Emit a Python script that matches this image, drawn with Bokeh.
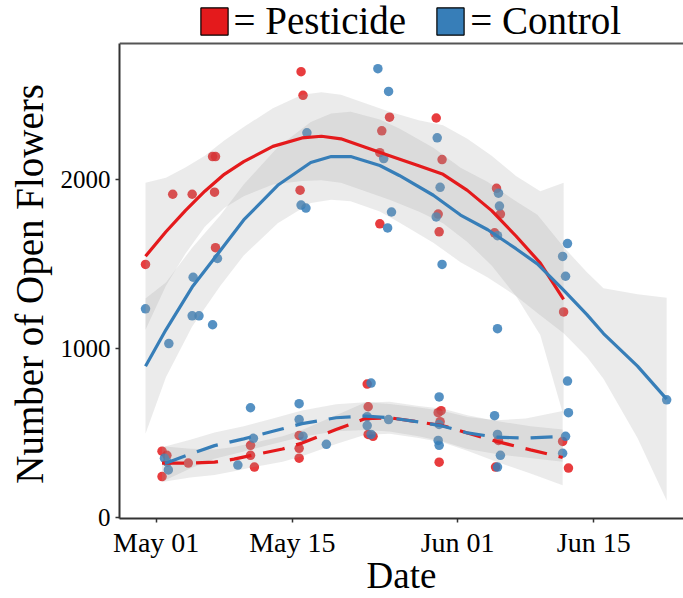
import numpy as np
import pandas as pd
from bokeh.plotting import figure
from bokeh.models import (Range1d, FixedTicker, DatetimeTickFormatter,
                          Span, Legend, LegendItem)
from bokeh.embed import file_html
from bokeh.resources import INLINE

# Survey dates are given as days after 1 May (fractional part = jitter)
BASE = pd.Timestamp("2019-05-01")

RED = "#E41A1C"
BLUE = "#377EB8"

# ---- observed counts: high-flower plots -------------------------------------
pest_hi_day = [-1.1, 1.7, 3.7, 5.8, 6.1, 6.0, 6.1, 14.9, 15.1, 14.8, 23.2, 24.0, 23.0, 23.0,
               28.8, 29.4, 29.0, 29.1, 35.0, 35.4, 34.8, 41.9]
pest_hi_val = [1497, 1912, 1912, 2135, 2135, 1924, 1596, 2637, 2497, 1936, 2287, 2368, 2158, 1737,
               2363, 2117, 1795, 1690, 1947, 1795, 1684, 1216]

ctrl_hi_day = [-1.1, 1.3, 3.8, 3.7, 4.4, 5.8, 6.3, 15.5, 14.9, 15.4, 22.8, 23.9, 23.4, 24.2, 23.8,
               28.9, 29.2, 28.8, 29.4, 35.2, 35.3, 35.1, 35.1, 42.3, 41.8, 42.1, 42.3, 52.5]
ctrl_hi_val = [1234, 1029, 1421, 1193, 1193, 1140, 1532, 2275, 1848, 1830, 2655, 2520, 2123, 1807, 1713,
               2246, 1953, 1778, 1497, 1918, 1842, 1667, 1117, 1620, 1544, 1427, 807, 696]

# ---- observed counts: low-flower plots --------------------------------------
pest_lo_day = [0.6, 0.6, 1.1, 3.3, 9.7, 9.7, 10.1, 14.7, 14.7, 14.7, 21.7, 21.8, 21.8, 22.3,
               29.0, 29.3, 29.2, 29.1, 34.9, 35.2, 41.8, 42.4]
pest_lo_val = [392, 242, 368, 322, 427, 368, 298, 485, 409, 351, 789, 655, 491, 480,
               620, 632, 567, 327, 298, 456, 450, 292]

ctrl_lo_day = [0.85, 1.15, 1.25, 8.4, 9.7, 10.0, 14.7, 14.7, 15.1, 17.5, 22.1, 21.7, 21.7, 22.1, 23.9,
               29.1, 29.1, 29.0, 29.1, 34.8, 35.1, 35.4, 35.1, 42.4, 42.1, 41.8]
ctrl_lo_val = [351, 327, 281, 310, 649, 468, 673, 579, 480, 433, 795, 596, 544, 491, 579,
               713, 550, 456, 427, 602, 491, 368, 298, 620, 480, 380]

# ---- smoothed trends with confidence bands ----------------------------------
pest_hi_fit_day = [-1.1, 1, 3, 5, 7, 9, 12, 15, 17, 19, 21.5, 24, 27, 29.5, 32, 34.5, 37, 39.5, 41.9]
pest_hi_fit = [1545, 1690, 1815, 1930, 2030, 2105, 2195, 2245, 2255, 2240, 2190, 2140, 2080, 2030,
               1935, 1815, 1665, 1505, 1290]
pest_hi_low = [1110, 1370, 1560, 1720, 1830, 1900, 1970, 1990, 1995, 1980, 1930, 1880, 1810, 1740,
               1630, 1490, 1310, 1080, 600]
pest_hi_upp = [1980, 2010, 2070, 2140, 2230, 2310, 2420, 2500, 2515, 2500, 2450, 2400, 2350, 2320,
               2240, 2140, 2020, 1930, 1980]

ctrl_hi_fit_day = [-1.1, 1, 3.7, 6.6, 9, 12.5, 15.9, 18, 20, 23, 25, 28.5, 31.3, 34.1, 37, 39.2,
                   41.9, 44.3, 46, 49.5, 52.5]
ctrl_hi_fit = [895, 1110, 1363, 1579, 1760, 1965, 2100, 2135, 2135, 2082, 2023, 1906, 1789, 1702,
               1590, 1500, 1345, 1200, 1088, 895, 700]
ctrl_hi_low = [495, 830, 1130, 1370, 1550, 1740, 1860, 1880, 1870, 1810, 1745, 1625, 1510, 1420,
               1310, 1210, 1090, 950, 820, 470, 100]
ctrl_hi_upp = [1295, 1390, 1596, 1788, 1970, 2190, 2340, 2390, 2400, 2354, 2301, 2187, 2068, 1984,
               1870, 1790, 1600, 1450, 1356, 1320, 1300]

pest_lo_fit_day = [0.6, 3.5, 6, 8, 10, 13, 15, 18.5, 21.5, 24, 27, 29.5, 32, 35, 38.5, 41.8]
pest_lo_fit = [322, 322, 327, 345, 370, 405, 440, 520, 585, 590, 565, 543, 500, 450, 400, 355]
pest_lo_low = [210, 237, 252, 273, 298, 330, 362, 435, 490, 495, 470, 443, 395, 330, 260, 190]
pest_lo_upp = [422, 407, 402, 417, 442, 480, 518, 605, 680, 685, 660, 643, 605, 570, 540, 520]

ctrl_lo_fit_day = [0.9, 3.5, 6, 9, 12, 15, 18.5, 21.5, 24, 27, 29.5, 32, 35, 38, 41.8]
ctrl_lo_fit = [320, 375, 425, 465, 510, 555, 590, 600, 590, 565, 540, 500, 475, 470, 480]
ctrl_lo_low = [220, 290, 347, 390, 435, 477, 510, 518, 508, 480, 450, 405, 375, 355, 330]
ctrl_lo_upp = [420, 460, 503, 540, 585, 633, 670, 682, 672, 650, 630, 595, 575, 585, 630]

# ---- axis ticks --------------------------------------------------------------
x_tick_dates = ["2019-05-01", "2019-05-15", "2019-06-01", "2019-06-15"]
y_ticks = [0, 1000, 2000]


def to_dates(days):
    return (BASE + pd.to_timedelta(np.asarray(days, dtype=float), unit="D")).values


def ms(ts):
    return pd.Timestamp(ts).value / 1e6


SERIF = "Liberation Serif"
Y_TOP = 2804  # upper edge of the panel

p = figure(width=683, height=598, x_axis_type="datetime",
           output_backend="svg", toolbar_location=None,
           x_range=Range1d(ms(BASE - pd.Timedelta(days=3.774)), ms(BASE + pd.Timedelta(days=54.23))),
           y_range=Range1d(-6, 3058),
           min_border_left=119, min_border_right=0, min_border_top=0, min_border_bottom=74)
p.background_fill_color = "white"
p.border_fill_color = "white"
p.outline_line_color = None
p.xgrid.grid_line_color = None
p.ygrid.grid_line_color = None

# points
for days, vals, col in [(pest_hi_day, pest_hi_val, RED), (ctrl_hi_day, ctrl_hi_val, BLUE),
                        (pest_lo_day, pest_lo_val, RED), (ctrl_lo_day, ctrl_lo_val, BLUE)]:
    p.scatter(x=to_dates(days), y=vals, size=9.5, fill_color=col, fill_alpha=0.85, line_color=None)

# confidence bands
for days, lo, hi in [(pest_hi_fit_day, pest_hi_low, pest_hi_upp), (ctrl_hi_fit_day, ctrl_hi_low, ctrl_hi_upp),
                     (pest_lo_fit_day, pest_lo_low, pest_lo_upp), (ctrl_lo_fit_day, ctrl_lo_low, ctrl_lo_upp)]:
    p.varea(x=to_dates(days), y1=lo, y2=hi, fill_color="#999999", fill_alpha=0.2)

# trend lines
p.line(x=to_dates(pest_hi_fit_day), y=pest_hi_fit, line_color=RED, line_width=3.2, line_join="round")
p.line(x=to_dates(ctrl_hi_fit_day), y=ctrl_hi_fit, line_color=BLUE, line_width=3.2, line_join="round")
p.line(x=to_dates(pest_lo_fit_day), y=pest_lo_fit, line_color=RED, line_width=3.2, line_dash="22 12")
p.line(x=to_dates(ctrl_lo_fit_day), y=ctrl_lo_fit, line_color=BLUE, line_width=3.2, line_dash="22 12")

# top border of the panel
p.add_layout(Span(location=Y_TOP, dimension="width", line_color="#555555", line_width=2))

# axes
for ax in (p.xaxis[0], p.yaxis[0]):
    ax.axis_line_color = "#333333"
    ax.axis_line_width = 2
    ax.major_tick_line_color = "#333333"
    ax.major_tick_line_width = 1.5
    ax.major_tick_out = 4
    ax.major_tick_in = 0
    ax.minor_tick_line_color = None
    ax.major_label_text_font = SERIF
    ax.major_label_text_color = "black"
    ax.axis_label_text_font = SERIF
    ax.axis_label_text_font_style = "normal"
    ax.axis_label_text_color = "black"

p.xaxis.axis_label = "Date"
p.xaxis.axis_label_text_font_size = "37px"
p.xaxis.major_label_text_font_size = "28px"
p.xaxis.ticker = FixedTicker(ticks=[ms(d) for d in x_tick_dates])
p.xaxis.formatter = DatetimeTickFormatter(days="%b %d", months="%b %d")
p.xaxis.major_label_standoff = 4
p.xaxis.axis_label_standoff = -6

# trailing no-break spaces move the centred title down to the middle of the bordered panel
p.yaxis.axis_label = "Number of Open Flowers" + "\u00a0" * 5
p.yaxis.axis_label_text_font_size = "39px"
p.yaxis.major_label_text_font_size = "25px"
p.yaxis.ticker = FixedTicker(ticks=y_ticks)
p.yaxis.major_label_standoff = 5
p.yaxis.axis_label_standoff = 7
p.yaxis.bounds = (-6, Y_TOP)

# legend swatches
sw_red = p.rect(x=to_dates(pest_hi_day), y=pest_hi_val, width=1, height=1,
                fill_color=RED, line_color="black", line_width=1.2, visible=False)
sw_blue = p.rect(x=to_dates(ctrl_hi_day), y=ctrl_hi_val, width=1, height=1,
                 fill_color=BLUE, line_color="black", line_width=1.2, visible=False)
legend = Legend(items=[LegendItem(label="= Pesticide", renderers=[sw_red]),
                       LegendItem(label="= Control", renderers=[sw_blue])],
                orientation="horizontal", location=(77.6, 475),
                glyph_width=34, glyph_height=34, label_standoff=3, spacing=27,
                padding=0, margin=0, border_line_color=None, background_fill_alpha=0,
                label_text_font=SERIF, label_text_font_size="39px", label_text_color="black")
p.add_layout(legend)

open("out.html", "w").write(file_html(p, INLINE))
